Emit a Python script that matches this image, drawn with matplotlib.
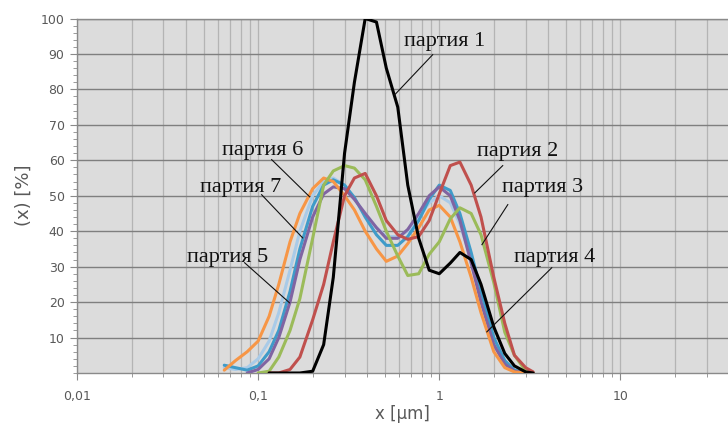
import numpy as np
import matplotlib
matplotlib.use("Agg")
import matplotlib.pyplot as plt
from matplotlib.ticker import FixedLocator, FuncFormatter, LogLocator, NullFormatter

# particle size grid, µm
size_um = [0.065, 0.075, 0.087, 0.1, 0.115, 0.13, 0.15, 0.17, 0.2, 0.23,
           0.26, 0.3, 0.34, 0.39, 0.45, 0.51, 0.59, 0.67, 0.77, 0.88,
           1.0, 1.15, 1.3, 1.5, 1.7, 2.0, 2.3, 2.6, 3.0, 3.3]

nan = float("nan")
batch1 = [nan, nan, nan, nan, 0, 0, 0, 0, 0.5, 8,
          27, 62, 82, 100, 99, 86, 75, 53, 38, 29,
          28, 31, 34, 32, 25, 13, 5.5, 2, 0.3, 0]
batch2 = [nan, nan, nan, nan, 0, 0, 1, 4.5, 15, 25,
          37, 50, 55, 56.3, 50, 43, 39, 37.7, 38.5, 43,
          50.5, 58.5, 59.5, 53, 44, 27, 14, 5, 1.5, 0.3]
batch3 = [nan, nan, nan, 0, 0.5, 4.5, 12, 21, 38, 53,
          57, 58.5, 57.8, 54.5, 47, 40, 33, 27.5, 28, 33.5,
          37, 43.5, 46.6, 45, 39, 25.5, 11.5, 5, 0.6, 0]
batch4 = [nan, nan, 0, 1, 4, 10, 20, 32, 44, 50.5,
          52.5, 52, 49, 45, 41, 38, 38, 40.5, 45, 50,
          52.5, 50, 43, 31, 20, 8, 2.5, 0.5, 0, nan]
batch5 = [2.2, 1.5, 0.8, 2, 6, 12, 23, 35, 47, 53,
          54.5, 53, 49.5, 44, 39, 36, 36, 38.5, 43, 49,
          53, 51.5, 45, 34, 23, 10, 3.5, 0.8, 0, nan]
batch6 = [0.8, 3.5, 6, 9, 16, 25, 37, 45, 52, 55,
          54, 50, 46, 40, 35, 31.5, 33, 36.5, 41, 46,
          47.3, 44, 37, 27, 17, 6, 1.5, 0.3, 0, nan]
batch7 = [1.5, 1.0, 1.5, 4, 9, 17, 29, 40, 50, 54,
          55, 53, 49, 45, 41, 38.5, 38.5, 40, 44, 48,
          50, 48, 42, 32, 21, 9, 3, 0.6, 0, nan]

batch_names = ["партия 1", "партия 2", "партия 3", "партия 4",
               "партия 5", "партия 6", "партия 7"]
batch_colors = ["#000000", "#c0504d", "#9bbb59", "#8064a2",
                "#3f9bc9", "#f79646", "#a9cbe8"]
batch_series = [batch1, batch2, batch3, batch4, batch5, batch6, batch7]

# label anchor (left, vertical centre) and leader line ends, data coords
label_xy = [(0.637, 93.5), (1.61, 62.4), (2.21, 52.3), (2.58, 32.5),
            (0.0403, 32.5), (0.0629, 62.7), (0.0475, 52.3)]
leader_from = [(0.92, 89.8), (2.24, 58.5), (2.39, 47.5), (4.18, 29.7),
               (0.0842, 31.1), (0.1187, 60.2), (0.1045, 50.3)]
leader_to = [(0.568, 78.5), (1.57, 50.8), (1.72, 36.2), (1.83, 11.6),
             (0.149, 19.8), (0.1925, 49.7), (0.1762, 38.1)]

fig = plt.figure(figsize=(7.28, 4.28), dpi=100)
ax = fig.add_axes([77 / 728, 1 - 373 / 428, 1 - 77 / 728, (373 - 18.5) / 428])
ax.set_facecolor("#dcdcdc")

x = np.array(size_um)
draw_order = [6, 4, 3, 5, 2, 1, 0]
for i in draw_order:
    ax.plot(x, np.array(batch_series[i], dtype=float), color=batch_colors[i],
            lw=2.2, solid_joinstyle="round", solid_capstyle="round",
            zorder=3 + (i == 0))

ax.set_xscale("log")
ax.set_xlim(0.01, 10 ** 1.594)
ax.set_ylim(0, 100)

ax.xaxis.set_major_locator(FixedLocator([0.01, 0.1, 1, 10]))
ax.xaxis.set_minor_locator(LogLocator(base=10, subs=np.arange(2, 10)))
ax.xaxis.set_minor_formatter(NullFormatter())
ax.xaxis.set_major_formatter(FuncFormatter(lambda v, p: ("%g" % v).replace(".", ",")))

ax.yaxis.set_major_locator(FixedLocator(list(range(10, 101, 10))))
ax.yaxis.set_minor_locator(FixedLocator(list(range(0, 101, 2))))

ax.grid(True, which="major", axis="y", color="#7f7f7f", lw=1.0, zorder=1)
ax.grid(True, which="both", axis="x", color="#b4b4b4", lw=0.9, zorder=1)

ax.spines["right"].set_visible(False)
for side in ["left", "bottom", "top"]:
    ax.spines[side].set_color("#8a8a8a")
    ax.spines[side].set_linewidth(1.0)

ax.tick_params(axis="both", which="major", direction="out", length=5,
               color="#8a8a8a", labelcolor="#595959", labelsize=9)
ax.tick_params(axis="both", which="minor", direction="out", length=3,
               color="#8a8a8a")
ax.tick_params(axis="x", which="major", pad=7)
ax.tick_params(axis="y", which="major", pad=4)

ax.set_xlabel("x [µm]", color="#595959", fontsize=12, labelpad=2)
ax.set_ylabel("(x) [%]", color="#595959", fontsize=13, labelpad=6)

for k in range(len(batch_names)):
    tx, ty = label_xy[k]
    ax.text(tx, ty, batch_names[k], family="Liberation Serif", fontsize=16,
            color="#111111", ha="left", va="center", zorder=6)
    (x0, y0), (x1, y1) = leader_from[k], leader_to[k]
    ax.plot([x0, x1], [y0, y1], color="#111111", lw=0.8, zorder=6)

fig.savefig("out.png", dpi=100, facecolor="white")
